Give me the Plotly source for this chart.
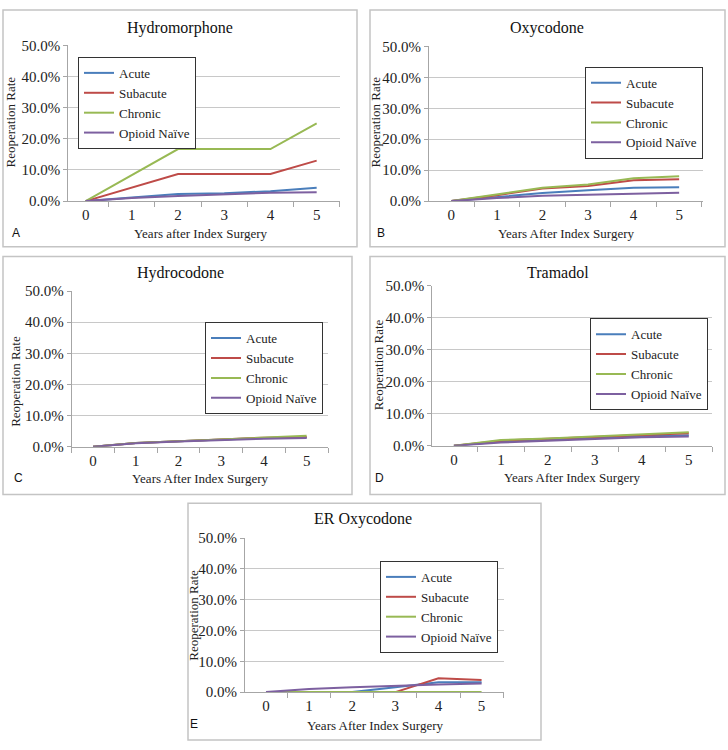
import plotly.graph_objects as go

W, H = 728, 750

years = [0, 1, 2, 3, 4, 5]
groups = ["Acute", "Subacute", "Chronic", "Opioid Naïve"]
colors = ["#4a7ebb", "#be4b48", "#98b954", "#7d60a0"]
y_ticks = [0, 10, 20, 30, 40, 50]

# reoperation rate (%) by years after index surgery
hydromorphone_acute = [0, 1.2, 2.3, 2.5, 3.2, 4.3]
hydromorphone_subacute = [0, 4.4, 8.7, 8.7, 8.7, 13.0]
hydromorphone_chronic = [0, 8.3, 16.7, 16.7, 16.7, 25.0]
hydromorphone_naive = [0, 1.0, 1.6, 2.2, 2.7, 2.8]

oxycodone_acute = [0, 1.4, 2.6, 3.5, 4.3, 4.5]
oxycodone_subacute = [0, 1.9, 4.1, 4.9, 6.7, 7.1]
oxycodone_chronic = [0, 2.1, 4.3, 5.4, 7.4, 8.0]
oxycodone_naive = [0, 1.0, 1.7, 2.1, 2.5, 2.7]

hydrocodone_acute = [0, 1.2, 1.8, 2.3, 2.8, 3.0]
hydrocodone_subacute = [0, 1.2, 1.8, 2.3, 2.9, 3.1]
hydrocodone_chronic = [0, 1.2, 1.8, 2.4, 3.1, 3.5]
hydrocodone_naive = [0, 1.1, 1.7, 2.2, 2.6, 2.8]

tramadol_acute = [0, 1.3, 1.9, 2.5, 3.0, 3.3]
tramadol_subacute = [0, 1.6, 2.2, 2.8, 3.4, 3.9]
tramadol_chronic = [0, 1.8, 2.3, 3.0, 3.6, 4.2]
tramadol_naive = [0, 1.0, 1.6, 2.2, 2.7, 2.9]

er_oxycodone_acute = [0, 0, 0, 1.6, 3.2, 3.2]
er_oxycodone_subacute = [0, 0, 0, 0, 4.5, 3.9]
er_oxycodone_chronic = [0, 0, 0, 0, 0, 0]
er_oxycodone_naive = [0, 1.0, 1.6, 2.1, 2.5, 2.8]

SERIF = "Liberation Serif"
SANS = "Liberation Sans"


def px(x):
    return x / W


def py(y):
    return 1 - y / H


# layout in pixels: plot area (x0, y50, x1, y0), x range, panel box, legend centre/top,
# title centre, x title centre, y title centre, letter position
panels = [
    dict(name="Hydromorphone", letter="A", xlabel="Years after Index Surgery",
         data=[hydromorphone_acute, hydromorphone_subacute, hydromorphone_chronic, hydromorphone_naive],
         plot=(68.3, 38.3, 340, 197.3), xr=(-0.375, 5.505), box=(3, 2, 357, 244),
         leg=(137, 50), title=(180, 20), xt=(201, 230), yt=(11, 117), lt=(16, 230)),
    dict(name="Oxycodone", letter="B", xlabel="Years After Index Surgery",
         data=[oxycodone_acute, oxycodone_subacute, oxycodone_chronic, oxycodone_naive],
         plot=(429, 39.3, 703.3, 197.3), xr=(-0.49, 5.53), box=(370, 2, 725, 244),
         leg=(644, 60), title=(547, 20), xt=(566, 230), yt=(376, 117), lt=(381, 230)),
    dict(name="Hydrocodone", letter="C", xlabel="Years After Index Surgery",
         data=[hydrocodone_acute, hydrocodone_subacute, hydrocodone_chronic, hydrocodone_naive],
         plot=(71.7, 289.3, 328, 448.3), xr=(-0.5, 5.5), box=(3, 254, 352, 497),
         leg=(264, 321), title=(180, 271), xt=(200, 481), yt=(16, 382), lt=(18, 480)),
    dict(name="Tramadol", letter="D", xlabel="Years After Index Surgery",
         data=[tramadol_acute, tramadol_subacute, tramadol_chronic, tramadol_naive],
         plot=(432.3, 284, 712.3, 447.3), xr=(-0.46, 5.5), box=(370, 254, 725, 497),
         leg=(649, 317), title=(558, 270), xt=(572, 480), yt=(378, 365), lt=(379, 480)),
    dict(name="ER Oxycodone", letter="E", xlabel="Years After Index Surgery",
         data=[er_oxycodone_acute, er_oxycodone_subacute, er_oxycodone_chronic, er_oxycodone_naive],
         plot=(245, 541.7, 504, 699), xr=(-0.487, 5.52), box=(188, 506, 541, 748),
         leg=(439, 565), title=(363, 522), xt=(375, 733), yt=(194, 621), lt=(194, 732)),
]

fig = go.Figure()
layout = {}
annotations = []
shapes = []

for i, p in enumerate(panels, start=1):
    sfx = "" if i == 1 else str(i)
    leg_name = "legend" + sfx
    for g, c, vals in zip(groups, colors, p["data"]):
        fig.add_trace(go.Scatter(
            x=years, y=vals, name=g, mode="lines",
            line=dict(color=c, width=2),
            xaxis="x" + sfx, yaxis="y" + sfx,
            legend=leg_name,
        ))

    x0, y50, x1, y0 = p["plot"]
    layout["xaxis" + sfx] = dict(
        domain=[px(x0), px(x1)], range=list(p["xr"]), anchor="y" + sfx,
        tickvals=years, ticktext=[str(v) for v in years], ticks="",
        tickfont=dict(family=SERIF, size=15, color="#222"),
        showline=True, linecolor="#a6a6a6", linewidth=1,
        showgrid=False, zeroline=False, fixedrange=True,
        minor=dict(ticks="outside", tick0=0.5, dtick=1, ticklen=5,
                   tickcolor="#a6a6a6", showgrid=False),
    )
    layout["yaxis" + sfx] = dict(
        domain=[py(y0), py(y50)], range=[0, 50], anchor="x" + sfx,
        tickvals=y_ticks, ticktext=[f"{v:.1f}%" for v in y_ticks],
        ticks="outside", ticklen=4, tickcolor="#a6a6a6",
        tickfont=dict(family=SERIF, size=15, color="#222"),
        showline=True, linecolor="#a6a6a6", linewidth=1,
        showgrid=True, gridcolor="#c8c8c8", gridwidth=1,
        zeroline=False, fixedrange=True,
    )
    layout[leg_name] = dict(
        x=px(p["leg"][0]), y=py(p["leg"][1]), xanchor="center", yanchor="top",
        bgcolor="white", bordercolor="#333", borderwidth=1,
        font=dict(family=SERIF, size=13, color="#222"),
        itemwidth=30, tracegroupgap=0,
    )

    bx0, by0, bx1, by1 = p["box"]
    shapes.append(dict(type="rect", xref="paper", yref="paper",
                       x0=px(bx0), x1=px(bx1), y0=py(by1), y1=py(by0),
                       line=dict(color="#c4c4c4", width=1.5), layer="below"))

    annotations += [
        dict(text=p["name"], x=px(p["title"][0]), y=py(p["title"][1]),
             font=dict(family=SERIF, size=16, color="#111")),
        dict(text=p["xlabel"], x=px(p["xt"][0]), y=py(p["xt"][1]),
             font=dict(family=SERIF, size=13, color="#222")),
        dict(text="Reoperation Rate", x=px(p["yt"][0]), y=py(p["yt"][1]), textangle=-90,
             font=dict(family=SERIF, size=13, color="#222")),
        dict(text=p["letter"], x=px(p["lt"][0]), y=py(p["lt"][1]),
             font=dict(family=SANS, size=12, color="#111")),
    ]

for a in annotations:
    a.update(xref="paper", yref="paper", showarrow=False, xanchor="center", yanchor="middle")

fig.update_layout(
    width=W, height=H,
    margin=dict(l=0, r=0, t=0, b=0),
    paper_bgcolor="white", plot_bgcolor="white",
    annotations=annotations, shapes=shapes,
    **layout,
)

# the page body has a default 8px margin; drop it so the figure fills the window
fig.write_html("out.html", config={"displayModeBar": False},
               post_script="document.body.style.margin = '0';")
